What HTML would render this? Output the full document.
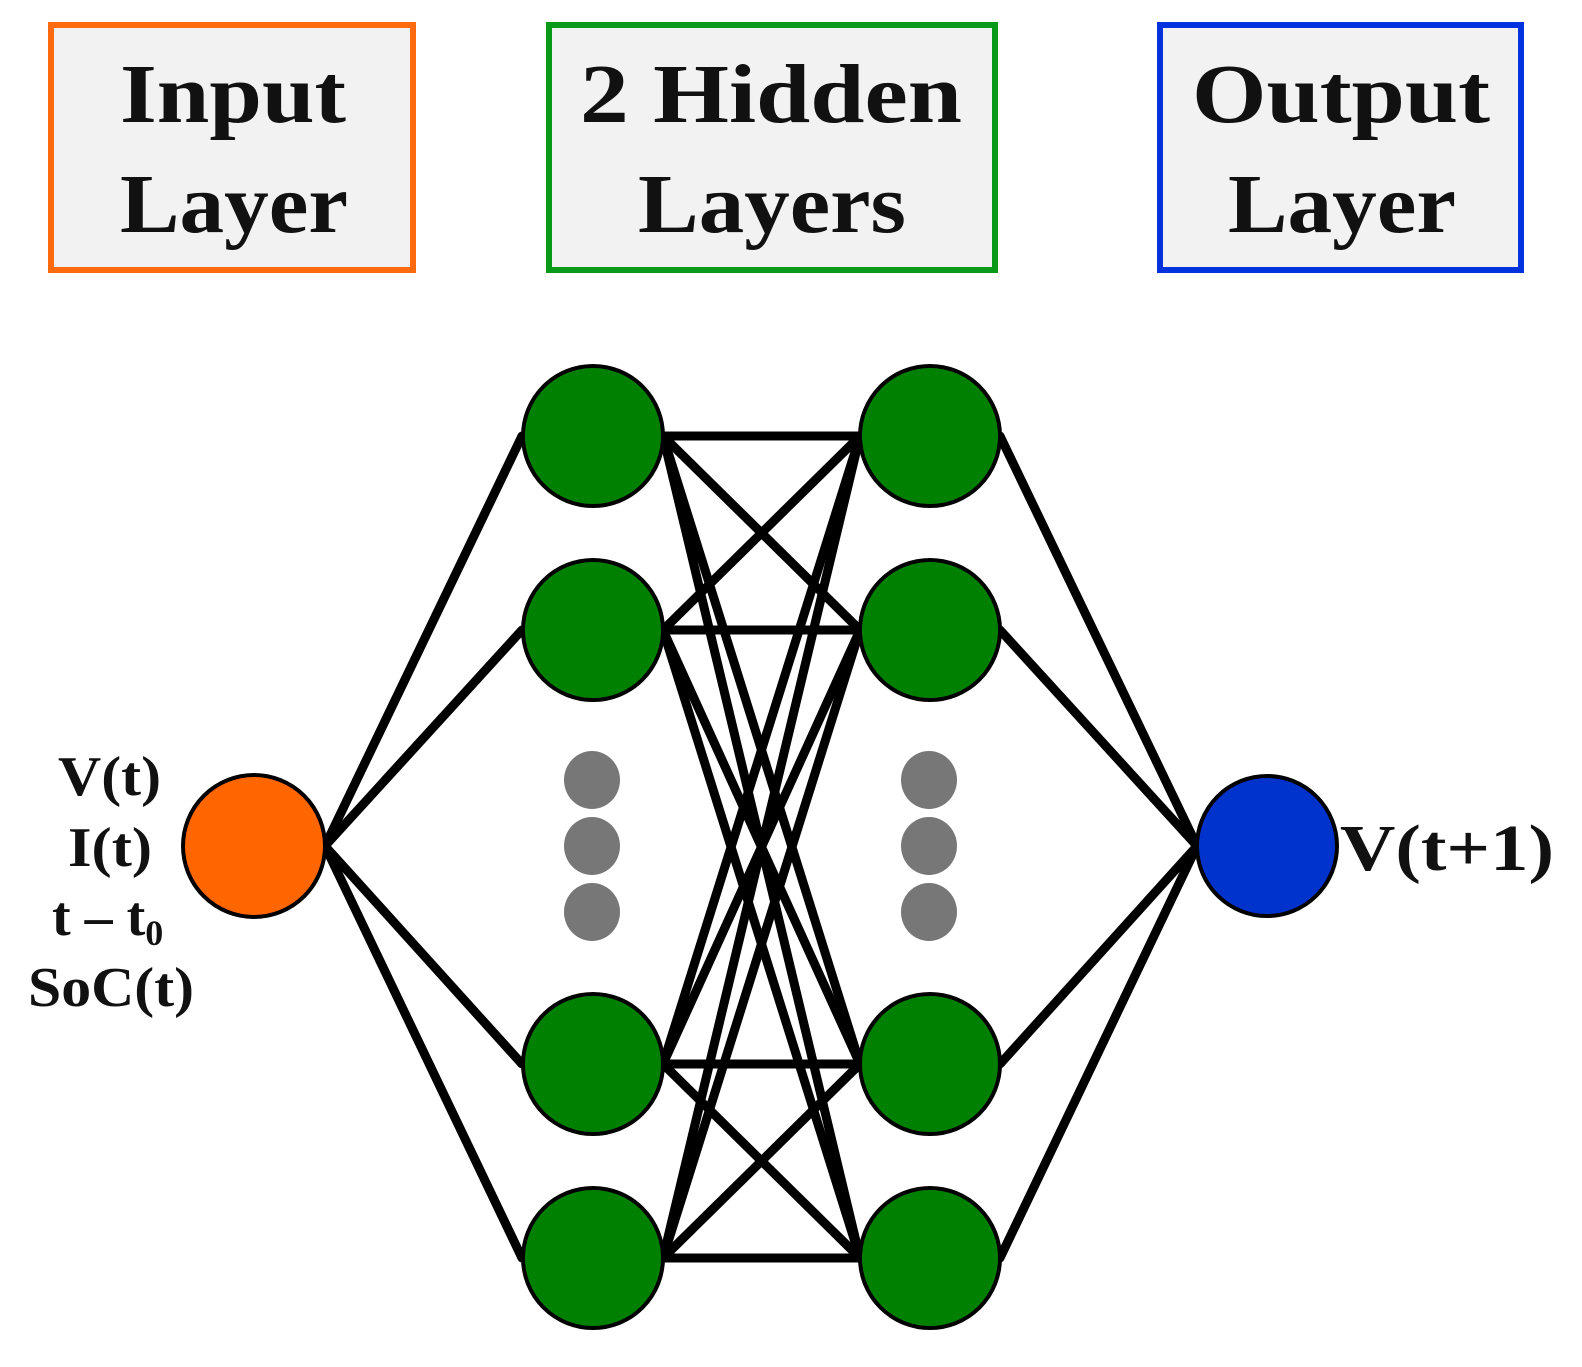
<!DOCTYPE html>
<html><head><meta charset="utf-8"><style>
html,body{margin:0;padding:0;background:#fff;}
svg{display:block;}
text{font-family:"Liberation Serif",serif;font-weight:bold;fill:#111;}
</style></head><body>
<svg width="1582" height="1367" viewBox="0 0 1582 1367" xmlns="http://www.w3.org/2000/svg">
<rect x="51" y="25" width="362" height="245" fill="#f2f2f2" stroke="#ff6a0e" stroke-width="6"/>
<rect x="549" y="25" width="446" height="245" fill="#f2f2f2" stroke="#0a9a1a" stroke-width="6"/>
<rect x="1160" y="25" width="361" height="245" fill="#f2f2f2" stroke="#0033dd" stroke-width="6"/>
<g font-size="84" lengthAdjust="spacingAndGlyphs">
<text x="120" y="122" textLength="226" lengthAdjust="spacingAndGlyphs">Input</text>
<text x="120" y="232" textLength="228" lengthAdjust="spacingAndGlyphs">Layer</text>
<text x="580" y="122" textLength="382" lengthAdjust="spacingAndGlyphs">2 Hidden</text>
<text x="638" y="232" textLength="268" lengthAdjust="spacingAndGlyphs">Layers</text>
<text x="1192" y="122" textLength="298" lengthAdjust="spacingAndGlyphs">Output</text>
<text x="1228" y="232" textLength="228" lengthAdjust="spacingAndGlyphs">Layer</text>
</g>
<g stroke="#000" stroke-width="9" stroke-linecap="round">
<line x1="325" y1="846" x2="522" y2="436"/><line x1="325" y1="846" x2="522" y2="630"/>
<line x1="325" y1="846" x2="522" y2="1064"/><line x1="325" y1="846" x2="522" y2="1258"/>
<line x1="1000" y1="436" x2="1197" y2="846"/><line x1="1000" y1="630" x2="1197" y2="846"/>
<line x1="1000" y1="1064" x2="1197" y2="846"/><line x1="1000" y1="1258" x2="1197" y2="846"/>
<line x1="663" y1="436" x2="860" y2="436"/><line x1="663" y1="436" x2="860" y2="630"/><line x1="663" y1="436" x2="860" y2="1064"/><line x1="663" y1="436" x2="860" y2="1258"/>
<line x1="663" y1="630" x2="860" y2="436"/><line x1="663" y1="630" x2="860" y2="630"/><line x1="663" y1="630" x2="860" y2="1064"/><line x1="663" y1="630" x2="860" y2="1258"/>
<line x1="663" y1="1064" x2="860" y2="436"/><line x1="663" y1="1064" x2="860" y2="630"/><line x1="663" y1="1064" x2="860" y2="1064"/><line x1="663" y1="1064" x2="860" y2="1258"/>
<line x1="663" y1="1258" x2="860" y2="436"/><line x1="663" y1="1258" x2="860" y2="630"/><line x1="663" y1="1258" x2="860" y2="1064"/><line x1="663" y1="1258" x2="860" y2="1258"/>
</g>
<g stroke="#000" stroke-width="4">
<circle cx="254" cy="846" r="71" fill="#ff6600"/>
<circle cx="1267" cy="846" r="70" fill="#0033cc"/>
<g fill="#008000">
<circle cx="593" cy="436" r="70"/><circle cx="593" cy="630" r="70"/><circle cx="593" cy="1064" r="70"/><circle cx="593" cy="1258" r="70"/>
<circle cx="930" cy="436" r="70"/><circle cx="930" cy="630" r="70"/><circle cx="930" cy="1064" r="70"/><circle cx="930" cy="1258" r="70"/>
</g></g>
<g fill="#777">
<ellipse cx="592" cy="780" rx="28" ry="29"/><ellipse cx="592" cy="846" rx="28" ry="29"/><ellipse cx="592" cy="912" rx="28" ry="29"/>
<ellipse cx="929" cy="780" rx="28" ry="29"/><ellipse cx="929" cy="846" rx="28" ry="29"/><ellipse cx="929" cy="912" rx="28" ry="29"/>
</g>
<g font-size="56">
<text x="58" y="795" textLength="103" lengthAdjust="spacingAndGlyphs">V(t)</text>
<text x="68" y="866" textLength="84" lengthAdjust="spacingAndGlyphs">I(t)</text>
<text x="52" y="935">t – t<tspan font-size="36" dy="10">0</tspan></text>
<text x="28" y="1006" textLength="166" lengthAdjust="spacingAndGlyphs">SoC(t)</text>
</g>
<text x="1340" y="870" font-size="66" textLength="214" lengthAdjust="spacingAndGlyphs">V(t+1)</text>
</svg>
</body></html>
